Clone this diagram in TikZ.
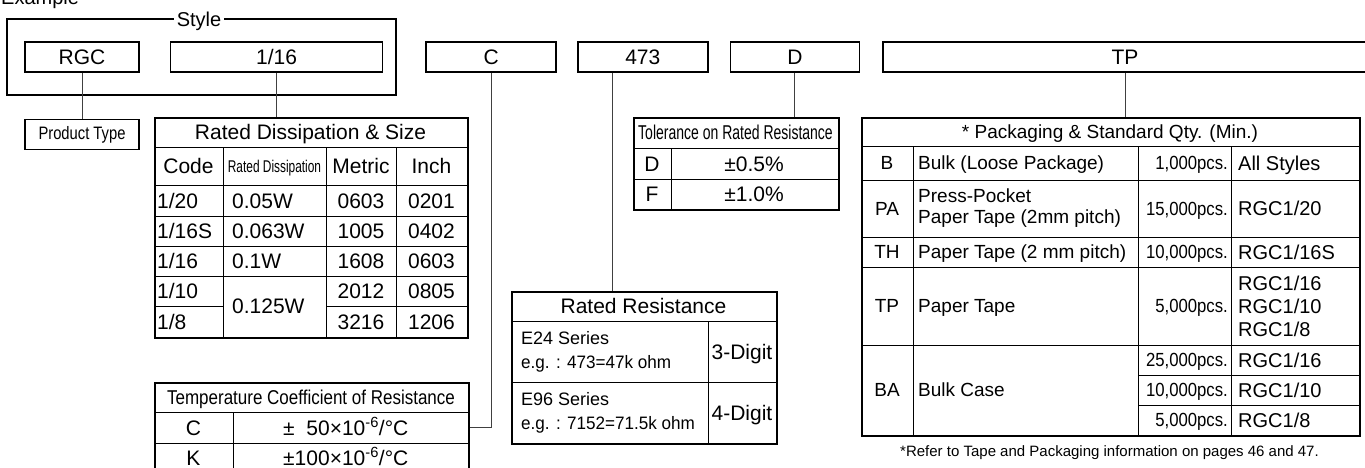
\documentclass[tikz,border=0pt]{standalone}
\usepackage{fontspec}
\setmainfont{Liberation Sans}
\usepackage{graphicx}
\usetikzlibrary{positioning}
\newcommand{\narrowtxt}[2][0.82]{\scalebox{#1}[1]{#2}}
\tikzset{
  codebox/.style={draw, line width=1.6pt, minimum height=30pt, inner sep=0pt, font=\fontsize{21}{24}\selectfont},
  tblframe/.style={draw, line width=1.6pt, inner sep=0pt, anchor=north west},
  gridline/.style={line width=0.8pt},
  link/.style={line width=0.9pt, draw=black!75},
  celltxt/.style={font=\fontsize{21}{24}\selectfont, text height=15pt, text depth=0pt, inner sep=0pt},
  pkgtxt/.style={font=\fontsize{19}{23}\selectfont, text height=13.6pt, text depth=0pt, inner sep=0pt},
  styletxt/.style={font=\fontsize{20}{23}\selectfont, text height=14.3pt, text depth=0pt, inner sep=0pt},
  notetxt/.style={font=\fontsize{15}{18}\selectfont, inner sep=0pt},
}
\begin{document}
\begin{tikzpicture}[x=1pt, y=-1pt, node distance=30pt]
\useasboundingbox (0,0) rectangle (1365,467);
\node[anchor=base west, inner sep=0pt, font=\fontsize{20}{24}\selectfont] (title) at (1,4) {Example};
\draw[line width=1.6pt] (7,19) rectangle (396,95);
\node[styletxt, fill=white, inner xsep=3pt] (style) at (199,19) {Style};
\node[codebox, minimum width=114pt] (rgc) at (82,57) {RGC};
\node[codebox, minimum width=212pt, right=30pt of rgc] (v116) {1/16};
\node[codebox, minimum width=130pt, right=42pt of v116] (vc) {C};
\node[codebox, minimum width=130pt, right=20pt of vc] (v473) {473};
\node[codebox, minimum width=129pt, right=21pt of v473] (vd) {D};
\node[codebox, minimum width=484pt, right=22pt of vd] (vtp) {TP};
\node[codebox, minimum width=114pt, font=\fontsize{18}{22}\selectfont, below=46pt of rgc] (ptype) {\narrowtxt{Product Type}};
\node[tblframe, minimum width=313pt, minimum height=220pt] (rds) at (154,117) {};
\draw[gridline] (154,147) -- (467,147) (154,185) -- (467,185) (154,216) -- (467,216) (154,246) -- (467,246) (154,276) -- (467,276);
\draw[gridline] (154,306) -- (223,306) (326,306) -- (467,306);
\draw[gridline] (223,147) -- (223,337) (326,147) -- (326,337) (396,147) -- (396,337);
\node[celltxt] at (310.5,132) {Rated Dissipation \& Size};
\node[celltxt] at (188.5,166) {Code};
\node[celltxt, font=\fontsize{17}{20}\selectfont, text height=12pt] at (274.5,166) {\narrowtxt[0.7]{Rated Dissipation}};
\node[celltxt] at (361,166) {Metric};
\node[celltxt] at (431.5,166) {Inch};
\node[celltxt, anchor=west] at (157,200.5) {1/20};
\node[celltxt, anchor=west] at (157,231) {1/16S};
\node[celltxt, anchor=west] at (157,261) {1/16};
\node[celltxt, anchor=west] at (157,291) {1/10};
\node[celltxt, anchor=west] at (157,321.5) {1/8};
\node[celltxt, anchor=west] at (232,200.5) {0.05W};
\node[celltxt, anchor=west] at (232,231) {0.063W};
\node[celltxt, anchor=west] at (232,261) {0.1W};
\node[celltxt, anchor=west] at (232,306) {0.125W};
\node[celltxt] at (361,200.5) {0603};
\node[celltxt] at (361,231) {1005};
\node[celltxt] at (361,261) {1608};
\node[celltxt] at (361,291) {2012};
\node[celltxt] at (361,321.5) {3216};
\node[celltxt] at (431.5,200.5) {0201};
\node[celltxt] at (431.5,231) {0402};
\node[celltxt] at (431.5,261) {0603};
\node[celltxt] at (431.5,291) {0805};
\node[celltxt] at (431.5,321.5) {1206};
\node[tblframe, minimum width=314pt, minimum height=91pt] (tcr) at (154,382) {};
\draw[gridline] (154,412) -- (468,412) (154,443) -- (468,443) (233,412) -- (233,473);
\node[celltxt, font=\fontsize{20}{23}\selectfont, text height=14.3pt] at (311,397) {\narrowtxt[0.85]{Temperature Coefficient of Resistance}};
\node[celltxt] (tcrC) at (193.5,427.5) {C};
\node[celltxt, anchor=west] at (283,427.5) {±\hphantom{1}50×10\textsuperscript{-6}/°C};
\node[celltxt] (tcrK) at (193.5,458) {K};
\node[celltxt, anchor=west] at (283,458) {±100×10\textsuperscript{-6}/°C};
\node[tblframe, minimum width=205pt, minimum height=92pt] (tol) at (633,117) {};
\draw[gridline] (633,148) -- (838,148) (633,179) -- (838,179) (671,148) -- (671,209);
\node[celltxt, font=\fontsize{20}{23}\selectfont, text height=14.3pt] at (735.5,132.5) {\narrowtxt[0.7]{Tolerance on Rated Resistance}};
\node[celltxt] at (652,163.5) {D};
\node[celltxt] at (754,163.5) {±0.5\%};
\node[celltxt] at (652,194) {F};
\node[celltxt] at (754,194) {±1.0\%};
\node[tblframe, minimum width=265pt, minimum height=152pt] (rres) at (511,291) {};
\draw[gridline] (511,321) -- (776,321) (511,382) -- (776,382) (708,321) -- (708,443);
\node[celltxt] at (643.5,306) {Rated Resistance};
\node[pkgtxt, text height=, text depth=, anchor=west, align=left, font=\fontsize{18}{24}\selectfont] at (521,351.5) {E24 Series\\\narrowtxt[0.95]{e.g. : 473=47k ohm}};
\node[pkgtxt, text height=, text depth=, anchor=west, align=left, font=\fontsize{18}{24}\selectfont] at (521,412.5) {E96 Series\\\narrowtxt[0.95]{e.g. : 7152=71.5k ohm}};
\node[celltxt] at (742,351.5) {3-Digit};
\node[celltxt] at (742,412.5) {4-Digit};
\node[tblframe, minimum width=498pt, minimum height=318pt] (pkg) at (861,117) {};
\draw[gridline] (861,146) -- (1359,146) (861,180) -- (1359,180) (861,237) -- (1359,237) (861,267) -- (1359,267) (861,345) -- (1359,345);
\draw[gridline] (1138,375) -- (1359,375) (1138,405) -- (1359,405);
\draw[gridline] (913,146) -- (913,435) (1138,146) -- (1138,435) (1231,146) -- (1231,435);
\node[pkgtxt] at (1110,131.5) {* Packaging \& Standard Qty. (Min.)};
\node[pkgtxt] at (887,163) {B};
\node[pkgtxt] at (887,208.5) {PA};
\node[pkgtxt] at (887,252) {TH};
\node[pkgtxt] at (887,306) {TP};
\node[pkgtxt] at (887,390) {BA};
\node[pkgtxt, anchor=west] at (918,163) {Bulk (Loose Package)};
\node[pkgtxt, text height=, text depth=, anchor=west, align=left, font=\fontsize{19}{21}\selectfont] at (918,208.5) {Press-Pocket\\Paper Tape (2mm pitch)};
\node[pkgtxt, anchor=west] at (918,252) {Paper Tape (2 mm pitch)};
\node[pkgtxt, anchor=west] at (918,306) {Paper Tape};
\node[pkgtxt, anchor=west] at (918,390) {Bulk Case};
\node[pkgtxt, anchor=east] at (1228,163) {\narrowtxt[0.88]{1,000pcs.}};
\node[pkgtxt, anchor=east] at (1228,208.5) {\narrowtxt[0.88]{15,000pcs.}};
\node[pkgtxt, anchor=east] at (1228,252) {\narrowtxt[0.88]{10,000pcs.}};
\node[pkgtxt, anchor=east] at (1228,306) {\narrowtxt[0.88]{5,000pcs.}};
\node[pkgtxt, anchor=east] at (1228,360) {\narrowtxt[0.88]{25,000pcs.}};
\node[pkgtxt, anchor=east] at (1228,390) {\narrowtxt[0.88]{10,000pcs.}};
\node[pkgtxt, anchor=east] at (1228,420) {\narrowtxt[0.88]{5,000pcs.}};
\node[styletxt, anchor=west] at (1238,163) {All Styles};
\node[styletxt, anchor=west] at (1238,208.5) {RGC1/20};
\node[styletxt, anchor=west] at (1238,252) {RGC1/16S};
\node[styletxt, text height=, text depth=, anchor=west, align=left, font=\fontsize{20}{23}\selectfont] at (1238,306) {RGC1/16\\RGC1/10\\RGC1/8};
\node[styletxt, anchor=west] at (1238,360) {RGC1/16};
\node[styletxt, anchor=west] at (1238,390) {RGC1/10};
\node[styletxt, anchor=west] at (1238,420) {RGC1/8};
\node[notetxt, anchor=west] (note) at (900,453) {*Refer to Tape and Packaging information on pages 46 and 47.};
\draw[link] (rgc) -- (ptype);
\draw[link] (v116.south) -- (v116.south |- rds.north);
\draw[link] (vc.south) |- (tcr.east |- tcrC);
\draw[link] ([xshift=-30pt]v473.south) -- ([xshift=-30pt]v473.south |- rres.north);
\draw[link] (vd.south) -- (vd.south |- tol.north);
\draw[link] (vtp.south) -- (vtp.south |- pkg.north);
\end{tikzpicture}
\end{document}
